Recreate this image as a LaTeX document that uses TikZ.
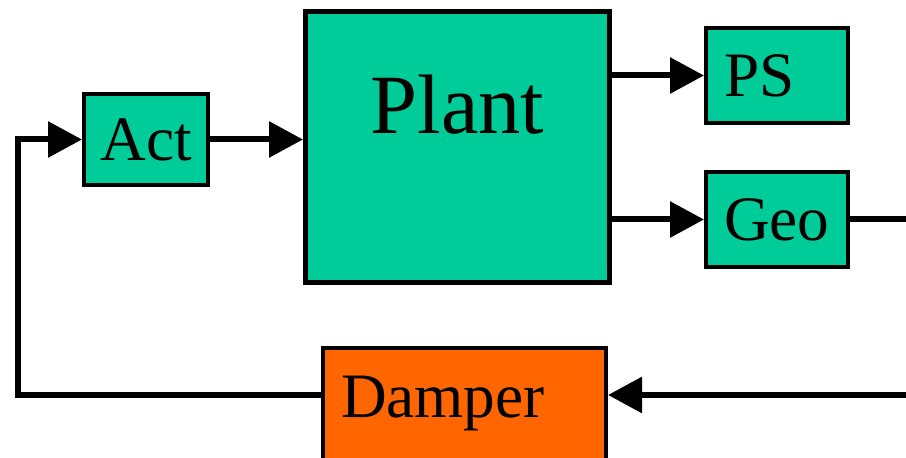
\documentclass[tikz,border=0pt]{standalone}
\usepackage{fontspec}
\setmainfont{Liberation Serif}
\usetikzlibrary{arrows.meta}
\definecolor{plantgreen}{RGB}{0,204,153}
\definecolor{damperorange}{RGB}{255,102,0}

\begin{document}
\begin{tikzpicture}[every node/.style={draw,line width=0.08cm,fill=plantgreen,inner sep=0pt,font=\fontsize{36}{40}\selectfont},
  leftbox/.style={inner xsep=0.36cm,text width=#1,align=left},
  sig/.style={line width=0.12cm,-{Triangle[length=0.68cm,width=0.7cm]}},
  wire/.style={line width=0.12cm}]
\useasboundingbox (0,0) rectangle (18.12,-9.16);

%forward path
\node[minimum width=2.48cm,minimum height=1.82cm] (act) at (2.92,-2.79) {Act};
\node[line width=0.1cm,minimum width=6.08cm,minimum height=5.42cm] (plant) at (9.15,-2.94) {};
\node[draw=none,fill=none,anchor=base,font=\fontsize{48}{52}\selectfont] (plantname) at (9.15,-2.68) {Plant};

%outputs
\node[leftbox=2.12cm,minimum height=1.9cm] (ps) at (15.54,-1.51) {PS};
\node[leftbox=2.12cm,minimum height=1.9cm] (geo) at (15.54,-4.39) {Geo};

%feedback
\node[leftbox=4.94cm,fill=damperorange,minimum height=2.64cm,text height=0.86cm,text depth=0.7cm] (damp) at (9.29,-8.28) {Damper};

\coordinate (geoout) at (18.3,-4.39);
\coordinate (dampin) at (18.3,-7.9);
\coordinate (fbl) at (0.36,-7.9);
\coordinate (fbu) at (0.36,-2.79);

\draw[sig] (act.east) -- (act.east -| plant.west);
\draw[sig] (ps.west -| plant.east) -- (ps.west);
\draw[sig] (geo.west -| plant.east) -- (geo.west);
\draw[wire] (geo.east) -- (geoout);
\draw[sig] (dampin) -- (dampin -| damp.east);
\draw[sig] (dampin -| damp.west) -- (fbl) -- (fbu) -- (act.west);

\end{tikzpicture}
\end{document}
